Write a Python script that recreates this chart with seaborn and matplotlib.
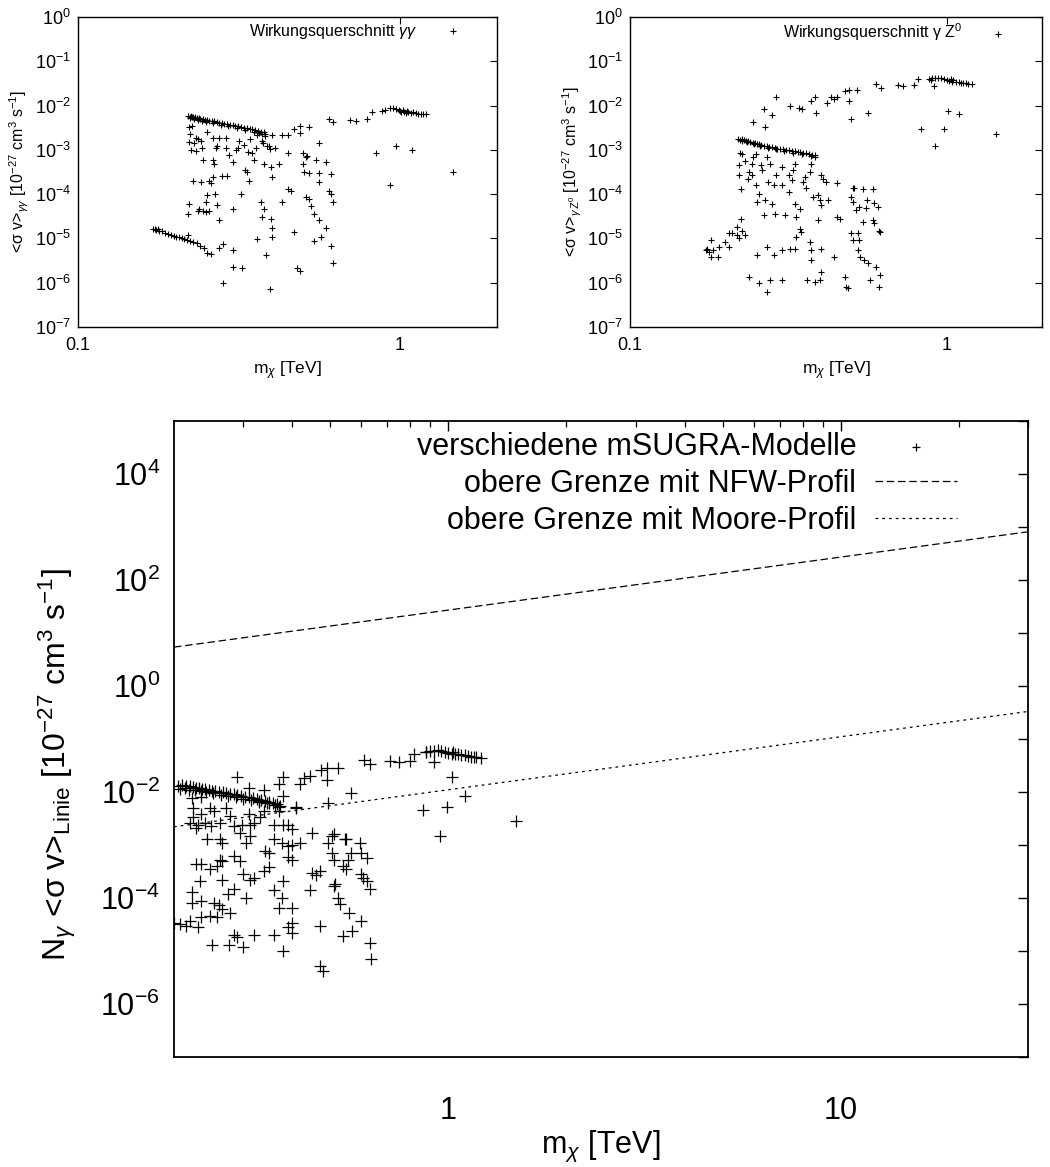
import matplotlib
matplotlib.use("Agg")
import matplotlib.pyplot as plt
import seaborn as sns
import numpy as np
import pandas as pd

# ---------------- data: top-left panel (gamma gamma) ----------------
gg_low_m = [0.171, 0.173, 0.175, 0.177, 0.179, 0.182, 0.186, 0.190, 0.194, 0.198,
            0.202, 0.206, 0.210, 0.214, 0.218, 0.222, 0.228, 0.234, 0.240, 0.246,
            0.252, 0.258]
gg_low_sv = [1.6e-5, 1.65e-5, 1.55e-5, 1.6e-5, 1.5e-5, 1.45e-5, 1.35e-5, 1.25e-5, 1.2e-5, 1.15e-5,
             1.1e-5, 1.05e-5, 1.0e-5, 9.6e-6, 9.2e-6, 8.8e-6, 8.3e-6, 7.8e-6, 6.9e-6, 6.0e-6,
             4.6e-6, 4.4e-6]
gg_band_m = [0.220, 0.222, 0.224, 0.226, 0.228, 0.231, 0.234, 0.237, 0.240, 0.244,
             0.248, 0.252, 0.256, 0.260, 0.265, 0.270, 0.275, 0.280, 0.285, 0.290,
             0.296, 0.302, 0.308, 0.314, 0.320, 0.327, 0.334, 0.341, 0.348, 0.355,
             0.362, 0.370, 0.377, 0.380, 0.381,
             0.223, 0.229, 0.235, 0.242, 0.250, 0.262, 0.278, 0.293, 0.311, 0.330,
             0.351, 0.366, 0.374]
gg_band_sv = [5.8e-3, 5.6e-3, 5.7e-3, 5.5e-3, 5.6e-3, 5.4e-3, 5.3e-3, 5.2e-3, 5.1e-3, 5.0e-3,
              4.8e-3, 4.7e-3, 4.6e-3, 4.5e-3, 4.4e-3, 4.2e-3, 4.1e-3, 4.0e-3, 3.9e-3, 3.8e-3,
              3.7e-3, 3.6e-3, 3.5e-3, 3.4e-3, 3.3e-3, 3.2e-3, 3.1e-3, 3.0e-3, 2.9e-3, 2.8e-3,
              2.7e-3, 2.6e-3, 2.5e-3, 2.3e-3, 2.1e-3,
              5.2e-3, 5.0e-3, 4.8e-3, 4.6e-3, 4.3e-3, 4.1e-3, 3.7e-3, 3.5e-3, 3.1e-3, 2.8e-3,
              2.6e-3, 2.4e-3, 2.3e-3]
gg_high_m = [0.88, 0.90, 0.93, 0.95, 0.97, 0.99, 1.00, 1.01, 1.02, 1.03,
             1.04, 1.05, 1.06, 1.08, 1.10, 1.12, 1.14, 1.16, 1.18, 1.20]
gg_high_sv = [7.5e-3, 8.0e-3, 9.0e-3, 8.6e-3, 8.4e-3, 8.0e-3, 7.6e-3, 7.0e-3, 7.8e-3, 7.3e-3,
              6.8e-3, 7.4e-3, 7.1e-3, 6.9e-3, 7.0e-3, 6.7e-3, 6.6e-3, 6.5e-3, 6.4e-3, 6.3e-3]
gg_scat_m = [0.60, 0.62, 0.70, 0.73, 0.79, 0.82, 0.84, 0.97, 1.09, 0.93,
             1.46, 0.40, 0.43, 0.45, 0.47, 0.49, 0.49, 0.52, 0.56, 0.45,
             0.50, 0.51, 0.515, 0.55, 0.59, 0.50, 0.505, 0.52, 0.56, 0.61,
             0.56, 0.60, 0.61, 0.51, 0.52, 0.62, 0.53, 0.54, 0.56, 0.59,
             0.57, 0.54, 0.61, 0.62, 0.45, 0.46, 0.43, 0.47, 0.48, 0.49,
             0.221, 0.222, 0.221, 0.224, 0.227, 0.221, 0.220, 0.220, 0.232, 0.241,
             0.243, 0.241, 0.238, 0.245, 0.249, 0.252, 0.249, 0.255, 0.258, 0.262,
             0.262, 0.265, 0.267, 0.271, 0.274, 0.274, 0.281, 0.282, 0.291, 0.294,
             0.302, 0.302, 0.302, 0.302, 0.313, 0.316, 0.320, 0.324, 0.328, 0.331,
             0.335, 0.339, 0.337, 0.343, 0.348, 0.352, 0.356, 0.360, 0.370, 0.373,
             0.378, 0.378, 0.373, 0.383, 0.393, 0.397, 0.400, 0.397, 0.401, 0.401,
             0.395, 0.41, 0.421, 0.252, 0.262, 0.274, 0.288, 0.268, 0.288, 0.232,
             0.235, 0.245, 0.255, 0.226, 0.230, 0.236, 0.270, 0.280, 0.310, 0.360,
             0.375, 0.385, 0.395]
gg_scat_sv = [5.1e-3, 4.3e-3, 4.8e-3, 4.5e-3, 5.1e-3, 7.1e-3, 8.3e-4, 1.2e-3, 1.0e-3, 1.6e-4,
              3.2e-4, 2.2e-3, 2.2e-3, 2.2e-3, 3.0e-3, 3.4e-3, 2.4e-3, 3.3e-3, 1.4e-3, 8.3e-4,
              8.3e-4, 7.0e-4, 7.2e-4, 5.8e-4, 5.3e-4, 4.9e-4, 3.2e-4, 3.0e-4, 3.0e-4, 2.9e-4,
              1.9e-4, 1.2e-4, 1.0e-4, 8.6e-5, 7.8e-5, 6.6e-5, 5.4e-5, 3.6e-5, 2.6e-5, 1.7e-5,
              1.1e-5, 8.6e-6, 6.9e-6, 2.8e-6, 1.3e-4, 1.2e-4, 6.6e-5, 1.4e-5, 2.1e-6, 1.8e-6,
              3.3e-3, 2.3e-3, 1.5e-3, 9.8e-4, 2.0e-4, 6.0e-5, 3.6e-5, 1.2e-5, 1.9e-3, 1.6e-3,
              1.1e-3, 1.9e-4, 4.7e-5, 5.8e-4, 6.6e-5, 9.6e-5, 4.0e-5, 2.0e-4, 1.8e-4, 2.4e-4,
              6.0e-4, 4.9e-4, 1.0e-4, 5.6e-5, 2.6e-5, 6.0e-6, 7.6e-6, 9.6e-7, 2.6e-4, 7.5e-4,
              5.3e-4, 4.7e-5, 5.5e-6, 2.3e-6, 1.1e-3, 1.6e-3, 1.0e-4, 2.2e-6, 1.3e-3, 3.5e-4,
              3.2e-4, 2.0e-4, 9.1e-4, 1.8e-3, 8.3e-4, 5.8e-4, 1.1e-3, 9.5e-6, 6.6e-5, 1.6e-3,
              4.9e-4, 4.7e-5, 3.0e-5, 4.2e-6, 1.2e-3, 4.1e-4, 2.5e-4, 2.8e-5, 1.7e-5, 1.1e-5,
              7.1e-7, 1.1e-3, 4.9e-4, 2.5e-3, 1.9e-3, 1.9e-3, 1.9e-3, 1.1e-3, 1.1e-3, 9.2e-4,
              4.1e-5, 4.1e-5, 4.1e-5, 3.5e-3, 1.4e-3, 1.8e-3, 1.2e-3, 2.6e-4, 1.0e-3, 2.2e-3,
              1.4e-3, 1.2e-3, 1.05e-3]

# ---------------- data: top-right panel (gamma Z0) ----------------
gz_band_m = [0.220, 0.223, 0.226, 0.229, 0.232, 0.236, 0.240, 0.244, 0.248, 0.252,
             0.256, 0.260, 0.265, 0.270, 0.275, 0.280, 0.286, 0.292, 0.298, 0.304,
             0.310, 0.317, 0.324, 0.331, 0.338, 0.345, 0.352, 0.360, 0.368, 0.376,
             0.383, 0.385,
             0.225, 0.234, 0.246, 0.258, 0.272, 0.289, 0.307, 0.327, 0.348, 0.372]
gz_band_sv = [1.8e-3, 1.7e-3, 1.75e-3, 1.65e-3, 1.6e-3, 1.55e-3, 1.5e-3, 1.45e-3, 1.4e-3, 1.38e-3,
              1.35e-3, 1.3e-3, 1.25e-3, 1.2e-3, 1.18e-3, 1.15e-3, 1.1e-3, 1.07e-3, 1.05e-3, 1.02e-3,
              1.0e-3, 9.7e-4, 9.4e-4, 9.2e-4, 9.0e-4, 8.8e-4, 8.6e-4, 8.3e-4, 8.0e-4, 7.8e-4,
              7.5e-4, 7.0e-4,
              1.6e-3, 1.5e-3, 1.35e-3, 1.25e-3, 1.12e-3, 1.02e-3, 9.6e-4, 8.7e-4, 8.2e-4, 7.3e-4]
gz_high_m = [0.88, 0.89, 0.90, 0.92, 0.94, 0.96, 0.98, 1.00, 1.02, 1.03,
             1.04, 1.05, 1.07, 1.09, 1.11, 1.13, 1.15, 1.17, 1.20, 0.91]
gz_high_sv = [4.0e-2, 3.8e-2, 4.1e-2, 4.2e-2, 4.3e-2, 4.1e-2, 4.0e-2, 3.8e-2, 3.6e-2, 3.9e-2,
              3.5e-2, 3.7e-2, 3.5e-2, 3.4e-2, 3.3e-2, 3.3e-2, 3.2e-2, 3.1e-2, 3.1e-2, 2.7e-2]
gz_scat_m = [0.290, 0.264, 0.245, 0.266, 0.281, 0.320, 0.341, 0.350, 0.374, 0.384,
             0.386, 0.418, 0.43, 0.45, 0.44, 0.476, 0.49, 0.49, 0.50, 0.52,
             0.60, 0.62, 0.563, 0.70, 0.73, 0.79, 0.81, 0.83, 0.98, 0.92,
             1.01, 1.09, 1.43, 0.222, 0.221, 0.221, 0.224, 0.224, 0.217, 0.217,
             0.221, 0.210, 0.205, 0.200, 0.191, 0.205, 0.180, 0.175, 0.174, 0.178,
             0.180, 0.190, 0.183, 0.226, 0.231, 0.235, 0.238, 0.242, 0.243, 0.245,
             0.250, 0.252, 0.256, 0.260, 0.261, 0.264, 0.267, 0.270, 0.272, 0.277,
             0.281, 0.288, 0.284, 0.290, 0.301, 0.301, 0.309, 0.317, 0.317, 0.324,
             0.328, 0.331, 0.331, 0.335, 0.343, 0.351, 0.356, 0.360, 0.369, 0.374,
             0.377, 0.392, 0.397, 0.402, 0.392, 0.402, 0.407, 0.416, 0.421, 0.45,
             0.238, 0.251, 0.255, 0.270, 0.277, 0.301, 0.270, 0.284, 0.303, 0.320,
             0.331, 0.343, 0.347, 0.335, 0.371, 0.374, 0.374, 0.361, 0.383, 0.397,
             0.402, 0.40, 0.440, 0.476, 0.481, 0.487, 0.499, 0.505, 0.529, 0.524,
             0.526, 0.534, 0.547, 0.566, 0.596, 0.574, 0.612, 0.618, 0.505, 0.51,
             0.499, 0.505, 0.517, 0.529, 0.545, 0.56, 0.556, 0.545, 0.585, 0.59,
             0.605, 0.585, 0.59, 0.612, 0.618, 0.45, 0.459, 0.226, 0.23, 0.25]
gz_scat_sv = [1.6e-2, 8.5e-3, 4.3e-3, 3.3e-3, 6.0e-3, 1.0e-2, 8.9e-3, 8.3e-3, 1.25e-2, 1.56e-2,
              6.9e-3, 1.17e-2, 1.6e-2, 1.6e-2, 1.4e-2, 2.1e-2, 2.3e-2, 1.25e-2, 4.9e-3, 2.2e-2,
              3.0e-2, 2.5e-2, 6.8e-3, 2.9e-2, 2.7e-2, 2.9e-2, 3.9e-2, 2.9e-3, 2.9e-3, 1.2e-3,
              7.4e-3, 6.4e-3, 2.3e-3, 8.3e-4, 4.5e-4, 2.7e-4, 1.3e-4, 2.8e-5, 1.8e-5, 1.2e-5,
              1.0e-5, 1.3e-5, 1.3e-5, 8.3e-6, 6.4e-6, 6.4e-6, 9.1e-6, 5.9e-6, 5.4e-6, 5.0e-6,
              3.8e-6, 3.8e-6, 5.6e-6, 1.5e-5, 1.2e-5, 2.2e-4, 3.2e-4, 4.9e-4, 2.7e-4, 6.9e-4,
              1.6e-4, 6.6e-5, 1.0e-4, 4.5e-4, 3.5e-4, 3.3e-5, 7.2e-5, 6.9e-4, 1.9e-4, 4.9e-4,
              6.1e-5, 3.6e-5, 1.6e-4, 2.7e-4, 4.1e-4, 1.6e-4, 3.3e-5, 2.7e-4, 1.1e-4, 2.1e-4,
              3.5e-4, 4.9e-4, 6.1e-5, 3.1e-5, 4.6e-5, 1.9e-4, 2.4e-4, 1.4e-4, 3.2e-4, 4.9e-4,
              8.7e-5, 9.6e-5, 7.2e-5, 5.6e-5, 2.6e-5, 2.7e-4, 2.2e-4, 1.9e-4, 7.2e-5, 1.8e-4,
              1.35e-6, 4.2e-6, 9.6e-7, 6.2e-7, 1.15e-6, 1.15e-6, 6.4e-6, 4.2e-6, 5.4e-6, 5.9e-6,
              5.9e-6, 1.66e-5, 1.4e-5, 1.1e-5, 8.3e-6, 5.4e-6, 3.2e-6, 1.15e-6, 1.05e-6, 1.15e-6,
              1.75e-6, 5.9e-6, 3.8e-6, 1.35e-6, 8.1e-7, 7.5e-7, 1.3e-5, 9.4e-6, 9.1e-6, 1.3e-5,
              5.4e-6, 3.8e-6, 3.2e-6, 2.8e-6, 2.3e-6, 1.15e-6, 8.1e-7, 1.5e-6, 1.4e-4, 1.4e-4,
              8.7e-5, 6.6e-5, 4.3e-5, 5.2e-5, 1.3e-4, 7.2e-5, 4.8e-5, 2.4e-5, 1.3e-4, 6.3e-5,
              5.0e-5, 2.6e-5, 2.2e-5, 1.5e-5, 1.4e-5, 3.0e-5, 2.8e-5, 8.0e-4, 5.5e-4, 8.0e-4]

# ---------------- data: bottom panel (N_gamma <sigma v>_Linie) ----------------
ln_band_m = [0.205, 0.210, 0.215, 0.220, 0.224, 0.228, 0.232, 0.236, 0.240, 0.245,
             0.250, 0.255, 0.260, 0.266, 0.272, 0.278, 0.284, 0.290, 0.297, 0.304,
             0.311, 0.318, 0.325, 0.333, 0.341, 0.349, 0.357, 0.365, 0.372,
             0.207, 0.213, 0.218, 0.226, 0.234, 0.242, 0.252, 0.263, 0.275, 0.287,
             0.300, 0.314, 0.329, 0.345, 0.361, 0.370]
ln_band_sv = [1.3e-2, 1.35e-2, 1.3e-2, 1.28e-2, 1.25e-2, 1.2e-2, 1.18e-2, 1.15e-2, 1.12e-2, 1.1e-2,
              1.06e-2, 1.03e-2, 1.0e-2, 9.8e-3, 9.5e-3, 9.2e-3, 9.0e-3, 8.7e-3, 8.4e-3, 8.2e-3,
              7.9e-3, 7.6e-3, 7.3e-3, 7.0e-3, 6.7e-3, 6.4e-3, 6.1e-3, 5.8e-3, 5.5e-3,
              1.15e-2, 1.2e-2, 1.1e-2, 1.1e-2, 1.05e-2, 9.8e-3, 9.4e-3, 8.9e-3, 8.4e-3, 8.1e-3,
              7.5e-3, 7.1e-3, 6.6e-3, 6.2e-3, 5.6e-3, 5.2e-3]
ln_high_m = [0.88, 0.90, 0.92, 0.94, 0.96, 0.98, 1.00, 1.02, 1.03, 1.04,
             1.06, 1.08, 1.10, 1.12, 1.14, 1.16, 1.18, 1.21]
ln_high_sv = [5.7e-2, 5.8e-2, 6.0e-2, 6.2e-2, 5.9e-2, 5.7e-2, 5.5e-2, 5.3e-2, 5.6e-2, 5.1e-2,
              5.2e-2, 5.0e-2, 4.9e-2, 4.7e-2, 4.6e-2, 4.5e-2, 4.5e-2, 4.4e-2]
ln_scat_m = [0.82, 0.88, 0.80, 0.92, 0.71, 0.75, 0.61, 0.63, 0.525, 0.49,
             0.475, 0.49, 0.444, 0.43, 0.419, 0.38, 0.37, 0.38, 0.495, 0.565,
             0.29, 0.31, 0.34, 0.41, 1.02, 1.10, 0.99, 0.86, 0.95, 1.49,
             0.222, 0.224, 0.224, 0.227, 0.22, 0.23, 0.234, 0.24, 0.247, 0.253,
             0.243, 0.262, 0.265, 0.249, 0.262, 0.272, 0.278, 0.284, 0.295, 0.298,
             0.31, 0.312, 0.305, 0.312, 0.32, 0.331, 0.34, 0.33, 0.35, 0.36,
             0.36, 0.37, 0.377, 0.38, 0.39, 0.40, 0.42, 0.41, 0.40, 0.39,
             0.39, 0.40, 0.45, 0.342, 0.35, 0.285, 0.295, 0.262, 0.227, 0.234,
             0.247, 0.257, 0.265, 0.30, 0.312, 0.32, 0.34, 0.35, 0.233, 0.265,
             0.285, 0.275, 0.305, 0.38, 0.36, 0.377, 0.444, 0.45, 0.47, 0.46,
             0.222, 0.222, 0.234, 0.253, 0.26, 0.265, 0.247, 0.234, 0.257, 0.278,
             0.22, 0.207, 0.20, 0.215, 0.23, 0.37, 0.40, 0.40, 0.40, 0.39,
             0.47, 0.285, 0.29, 0.32, 0.36, 0.25, 0.276, 0.30, 0.38, 0.47,
             0.48, 0.505, 0.51, 0.495, 0.545, 0.55, 0.595, 0.505, 0.51, 0.565,
             0.60, 0.62, 0.555, 0.54, 0.55, 0.60, 0.605, 0.62, 0.63, 0.51,
             0.515, 0.525, 0.53, 0.56, 0.60, 0.57, 0.54, 0.63, 0.635, 0.235]
ln_scat_sv = [5.3e-2, 5.7e-2, 3.8e-2, 3.6e-2, 3.8e-2, 3.6e-2, 4.0e-2, 3.3e-2, 2.8e-2, 2.8e-2,
              2.6e-2, 1.7e-2, 2.0e-2, 1.8e-2, 1.4e-2, 1.9e-2, 1.4e-2, 8.3e-3, 6.3e-3, 9.4e-3,
              1.9e-2, 1.2e-2, 1.1e-2, 5.2e-3, 1.9e-2, 8.3e-3, 5.2e-3, 4.5e-3, 1.5e-3, 2.8e-3,
              7.8e-3, 5.0e-3, 3.3e-3, 2.1e-3, 2.6e-3, 2.4e-3, 3.9e-3, 2.6e-3, 5.0e-3, 4.4e-3,
              1.3e-3, 1.3e-3, 1.1e-3, 2.3e-3, 2.6e-3, 5.0e-3, 3.5e-3, 2.3e-3, 1.7e-3, 2.4e-3,
              3.8e-3, 2.4e-3, 1.1e-3, 1.5e-3, 2.6e-3, 3.3e-3, 4.4e-3, 6.8e-3, 6.3e-3, 2.4e-3,
              1.3e-3, 4.4e-3, 1.1e-3, 2.4e-3, 2.4e-3, 2.0e-3, 1.1e-3, 5.0e-3, 1.0e-3, 9.5e-4,
              5.8e-4, 5.3e-4, 1.7e-3, 7.7e-4, 7.2e-4, 6.2e-4, 5.0e-4, 5.3e-4, 4.3e-4, 4.3e-4,
              3.5e-4, 4.0e-4, 5.0e-4, 2.8e-4, 2.2e-4, 2.4e-4, 3.2e-4, 3.8e-4, 2.1e-4, 2.2e-4,
              1.5e-4, 1.2e-4, 1.0e-4, 2.1e-4, 1.4e-4, 1.0e-4, 1.4e-4, 3.0e-4, 3.2e-4, 2.7e-4,
              1.3e-4, 8.1e-5, 8.8e-5, 8.1e-5, 7.4e-5, 6.1e-5, 4.6e-5, 4.3e-5, 4.3e-5, 5.3e-5,
              3.7e-5, 3.2e-5, 3.4e-5, 3.0e-5, 2.8e-5, 6.6e-5, 6.5e-5, 3.4e-5, 2.2e-5, 2.8e-5,
              3.0e-5, 2.0e-5, 1.8e-5, 2.0e-5, 2.0e-5, 1.3e-5, 1.3e-5, 1.2e-5, 9.8e-6, 5.2e-6,
              4.2e-6, 1.5e-3, 1.6e-3, 1.1e-3, 1.3e-3, 1.3e-3, 1.1e-3, 7.2e-4, 5.3e-4, 7.2e-4,
              7.2e-4, 5.7e-4, 5.3e-4, 4.0e-4, 3.5e-4, 2.8e-4, 2.4e-4, 2.1e-4, 1.45e-4, 1.7e-4,
              1.8e-4, 1.0e-4, 7.6e-5, 5.3e-5, 3.7e-5, 2.4e-5, 1.9e-5, 1.4e-5, 6.9e-6, 8.0e-3]

# upper limits (straight lines in log-log, read at the two axis ends)
limit_m = [0.2, 30.0]
nfw_limit = [5.4, 810.0]
moore_limit = [2.2e-3, 0.33]

# texts
lbl_gg = r"Wirkungsquerschnitt $\gamma\gamma$"
lbl_gz = r"Wirkungsquerschnitt γ Z$^0$"
lbl_pts = "verschiedene mSUGRA-Modelle"
lbl_nfw = "obere Grenze mit NFW-Profil"
lbl_moore = "obere Grenze mit Moore-Profil"
xlab = r"m$_\chi$ [TeV]"
ylab_gg = r"<σ v>$_{\gamma\gamma}$ [10$^{-27}$ cm$^3$ s$^{-1}$]"
ylab_gz = r"<σ v>$_{\gamma\,\mathrm{Z}^0}$ [10$^{-27}$ cm$^3$ s$^{-1}$]"
ylab_ln = r"N$_\gamma$ <σ v>$_{\mathrm{Linie}}$ [10$^{-27}$ cm$^3$ s$^{-1}$]"

# ---------------- style ----------------
sns.set_theme(style="white")
plt.rcParams["font.family"] = ["Liberation Sans", "DejaVu Sans"]
plt.rcParams["mathtext.fontset"] = "custom"
plt.rcParams["mathtext.rm"] = "Liberation Sans"
plt.rcParams["mathtext.it"] = "Liberation Sans:italic"
plt.rcParams["mathtext.bf"] = "Liberation Sans:bold"
plt.rcParams["axes.unicode_minus"] = False
plt.rcParams["text.color"] = "black"
plt.rcParams["axes.labelcolor"] = "black"
plt.rcParams["xtick.color"] = "black"
plt.rcParams["ytick.color"] = "black"

fig = plt.figure(figsize=(10.5, 11.67), dpi=100)
ax1 = fig.add_axes([0.0743, 0.7198, 0.399, 0.2656])
ax2 = fig.add_axes([0.6000, 0.7198, 0.3924, 0.2656])
ax3 = fig.add_axes([0.1657, 0.0943, 0.8133, 0.545])

def top_panel(ax, m, sv, label, ylabel):
    sns.scatterplot(x=m, y=sv, marker="+", s=24, color="black", linewidth=0.8,
                    ax=ax, label=label, legend=False, zorder=3)
    ax.set_xscale("log")
    ax.set_yscale("log")
    ax.set_xlim(0.1, 2.0)
    ax.set_ylim(1e-7, 1.0)
    ax.set_xticks([0.1, 1.0], ["0.1", "1"])
    ax.xaxis.set_minor_locator(plt.NullLocator())
    exps = list(range(-7, 1))
    ax.set_yticks([10.0 ** e for e in exps], [r"$10^{%d}$" % e for e in exps])
    ax.yaxis.set_minor_locator(plt.NullLocator())
    ax.tick_params(which="both", direction="in", top=True, right=True,
                   length=5, width=0.8, labelsize=13, colors="black")
    ax.tick_params(axis="x", pad=7)
    ax.tick_params(axis="y", pad=5)
    for sp in ax.spines.values():
        sp.set_linewidth(1.0)
        sp.set_color("black")
    ax.set_xlabel(xlab, fontsize=12.5, labelpad=4)
    ax.set_ylabel(ylabel, fontsize=11.5)
    ax.yaxis.set_label_coords(-0.112, 0.5)
    ax.legend(loc="upper right", bbox_to_anchor=(0.94, 0.985), markerfirst=False,
              frameon=False, fontsize=11.5, handlelength=2.4, handletextpad=1.0,
              borderaxespad=0, borderpad=0, markerscale=1.0)

top_panel(ax1, gg_low_m + gg_band_m + gg_high_m + gg_scat_m,
          gg_low_sv + gg_band_sv + gg_high_sv + gg_scat_sv, lbl_gg, ylab_gg)
top_panel(ax2, gz_band_m + gz_high_m + gz_scat_m,
          gz_band_sv + gz_high_sv + gz_scat_sv, lbl_gz, ylab_gz)

# ---------------- bottom panel ----------------
sns.scatterplot(x=ln_band_m + ln_high_m + ln_scat_m, y=ln_band_sv + ln_high_sv + ln_scat_sv,
                marker="+", s=85, color="black", linewidth=0.9, ax=ax3,
                label=lbl_pts, legend=False, zorder=3)
sns.lineplot(x=limit_m, y=nfw_limit, color="black", linewidth=0.9,
             linestyle=(0, (6.0, 3.0)), ax=ax3, label=lbl_nfw, legend=False)
sns.lineplot(x=limit_m, y=moore_limit, color="black", linewidth=0.9,
             linestyle=(0, (2.2, 3.2)), ax=ax3, label=lbl_moore, legend=False)
ax3.set_xscale("log")
ax3.set_yscale("log")
ax3.set_xlim(0.2, 30.0)
ax3.set_ylim(1e-7, 1e5)
ax3.set_xticks([1.0, 10.0], ["1", "10"])
ax3.set_xticks([0.3, 0.4, 0.5, 0.6, 0.7, 0.8, 0.9, 2, 3, 4, 5, 6, 7, 8, 9, 20, 30], minor=True)
ax3.xaxis.set_minor_formatter(plt.NullFormatter())
yexps = list(range(-7, 6))
ax3.set_yticks([10.0 ** e for e in yexps],
               [r"$10^{%d}$" % e if e % 2 == 0 else "" for e in yexps])
ax3.yaxis.set_minor_locator(plt.NullLocator())
ax3.tick_params(which="major", direction="in", top=True, right=True,
                length=7, width=1.0, labelsize=22, colors="black")
ax3.tick_params(which="minor", direction="in", top=True, right=True,
                length=4, width=0.9)
ax3.tick_params(axis="x", pad=28)
ax3.tick_params(axis="y", pad=10)
for sp in ax3.spines.values():
    sp.set_linewidth(1.3)
    sp.set_color("black")
ax3.set_xlabel(xlab, fontsize=22, labelpad=2)
ax3.set_ylabel(ylab_ln, fontsize=23)
ax3.yaxis.set_label_coords(-0.112, 0.46)

h, l = ax3.get_legend_handles_labels()
order = [l.index(lbl_pts), l.index(lbl_nfw), l.index(lbl_moore)]
ax3.legend([h[i] for i in order], [l[i] for i in order], loc="upper right",
           bbox_to_anchor=(0.917, 0.982), markerfirst=False, frameon=False,
           fontsize=22, handlelength=2.7, handletextpad=0.6, labelspacing=0.22,
           borderaxespad=0, borderpad=0, markerscale=0.6)

fig.savefig("out.png", dpi=100)
